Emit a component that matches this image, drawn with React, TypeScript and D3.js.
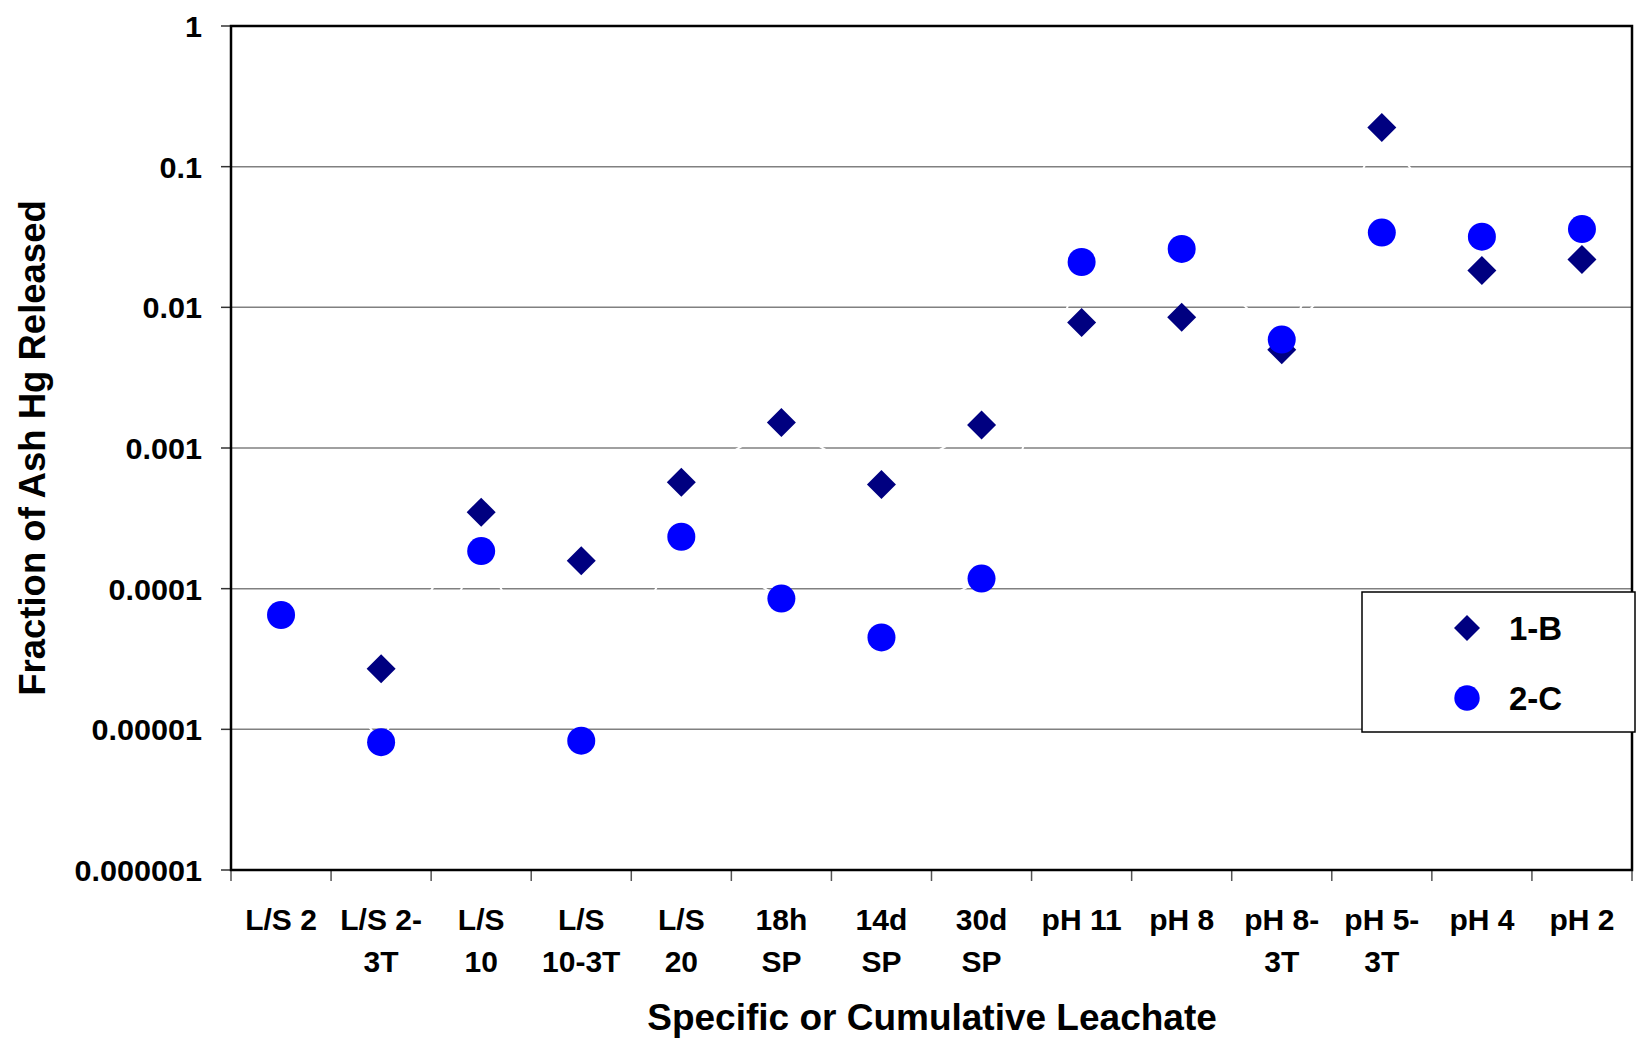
import React from "react";
import * as d3 from "d3";

// Leachate categories (line breaks marked with "\n")
const categories = [
  "L/S 2",
  "L/S 2-\n3T",
  "L/S\n10",
  "L/S\n10-3T",
  "L/S\n20",
  "18h\nSP",
  "14d\nSP",
  "30d\nSP",
  "pH 11",
  "pH 8",
  "pH 8-\n3T",
  "pH 5-\n3T",
  "pH 4",
  "pH 2",
];

// Fraction of ash Hg released, by sample
const series1B: (number | null)[] = [
  null, 2.7e-5, 3.5e-4, 1.58e-4, 5.7e-4, 1.52e-3, 5.5e-4, 1.46e-3,
  7.8e-3, 8.5e-3, 5.0e-3, 0.19, 0.0183, 0.0219,
];
const series2C: (number | null)[] = [
  6.5e-5, 8.1e-6, 1.85e-4, 8.3e-6, 2.34e-4, 8.5e-5, 4.5e-5, 1.18e-4,
  0.021, 0.026, 0.0059, 0.034, 0.0318, 0.036,
];

const yTickValues = [1, 0.1, 0.01, 0.001, 0.0001, 0.00001, 0.000001];
const yTickLabels = ["1", "0.1", "0.01", "0.001", "0.0001", "0.00001", "0.000001"];

const seriesNames = ["1-B", "2-C"];

const W = 1638;
const H = 1047;
const plot = { left: 231, right: 1632, top: 26, bottom: 870 };
const FONT = "'Liberation Sans', Arial, Helvetica, sans-serif";
const NAVY = "#000080";
const BLUE = "#0000FF";

const diamondPath = (h: number) => `M0,${-h}L${h},0L0,${h}L${-h},0Z`;

// Bold label, optionally rotated or stretched along its baseline
function BoldText(props: {
  x: number;
  y: number;
  size: number;
  sx?: number;
  anchor?: string;
  rotate?: number;
  children: React.ReactNode;
}) {
  const { x, y, size, sx = 1, anchor = "middle", rotate = 0, children } = props;
  return (
    <g transform={`translate(${x},${y}) rotate(${rotate}) scale(${sx},1)`}>
      <text
        x={0}
        y={0}
        textAnchor={anchor}
        fontFamily={FONT}
        fontWeight="bold"
        fontSize={size}
        fill="#000"
      >
        {children}
      </text>
    </g>
  );
}

export default function App() {
  const x = d3
    .scaleBand<number>()
    .domain(categories.map((_, i) => i))
    .range([plot.left, plot.right])
    .padding(0);
  const bw = x.bandwidth();
  const cx = (i: number) => (x(i) as number) + bw / 2;

  const y = d3.scaleLog().domain([1e-6, 1]).range([plot.bottom, plot.top]);

  const line = d3
    .line<number | null>()
    .defined((d) => d != null)
    .x((_, i) => cx(i))
    .y((d) => y(d as number));

  const boundaries = d3.range(categories.length + 1).map((i) =>
    i < categories.length ? (x(i) as number) : plot.right
  );

  return (
    <svg
      width={W}
      height={H}
      viewBox={`0 0 ${W} ${H}`}
      style={{ position: "absolute", left: 0, top: 0, background: "#fff" }}
    >
      <rect x={0} y={0} width={W} height={H} fill="#fff" />

      {/* horizontal gridlines */}
      {yTickValues.slice(1, -1).map((v) => (
        <line
          key={"g" + v}
          x1={plot.left}
          x2={plot.right}
          y1={y(v)}
          y2={y(v)}
          stroke="#808080"
          strokeWidth={1.5}
        />
      ))}

      {/* white series connectors */}
      <path d={line(series1B) || ""} fill="none" stroke="#fff" strokeWidth={2} />
      <path d={line(series2C) || ""} fill="none" stroke="#fff" strokeWidth={2} />

      {/* y ticks and labels */}
      {yTickValues.map((v, i) => (
        <g key={"yt" + v}>
          <line x1={plot.left - 10} x2={plot.left} y1={y(v)} y2={y(v)} stroke="#333" strokeWidth={1.5} />
          <BoldText x={202} y={y(v) + 11} size={30} sx={1.02} anchor="end">
            {yTickLabels[i]}
          </BoldText>
        </g>
      ))}

      {/* x ticks */}
      {boundaries.map((bx, i) => (
        <line key={"xt" + i} x1={bx} x2={bx} y1={plot.bottom} y2={plot.bottom + 11} stroke="#555" strokeWidth={1.5} />
      ))}

      {/* x labels */}
      {categories.map((c, i) =>
        c.split("\n").map((ln, j) => (
          <BoldText key={"xl" + i + "-" + j} x={cx(i)} y={930 + j * 41.5} size={30}>
            {ln}
          </BoldText>
        ))
      )}

      {/* markers: 1-B diamonds */}
      {series1B.map((v, i) =>
        v == null ? null : (
          <path key={"d" + i} d={diamondPath(14.5)} transform={`translate(${cx(i)},${y(v)})`} fill={NAVY} />
        )
      )}
      {/* markers: 2-C circles */}
      {series2C.map((v, i) =>
        v == null ? null : <circle key={"c" + i} cx={cx(i)} cy={y(v)} r={14} fill={BLUE} />
      )}

      {/* plot frame */}
      <rect
        x={plot.left}
        y={plot.top}
        width={plot.right - plot.left}
        height={plot.bottom - plot.top}
        fill="none"
        stroke="#000"
        strokeWidth={2.5}
      />

      {/* axis titles */}
      <BoldText x={932} y={1030} size={37}>
        Specific or Cumulative Leachate
      </BoldText>
      <BoldText x={45} y={448} size={36.5} rotate={-90}>
        Fraction of Ash Hg Released
      </BoldText>

      {/* legend */}
      <g>
        <rect x={1362} y={592} width={273} height={140} fill="#fff" stroke="#000" strokeWidth={1.5} />
        <path d={diamondPath(13)} transform="translate(1467,628)" fill={NAVY} />
        <circle cx={1467} cy={698} r={12.7} fill={BLUE} />
        <BoldText x={1509} y={640} size={33} anchor="start">
          {seriesNames[0]}
        </BoldText>
        <BoldText x={1509} y={710} size={33} anchor="start">
          {seriesNames[1]}
        </BoldText>
      </g>
    </svg>
  );
}
